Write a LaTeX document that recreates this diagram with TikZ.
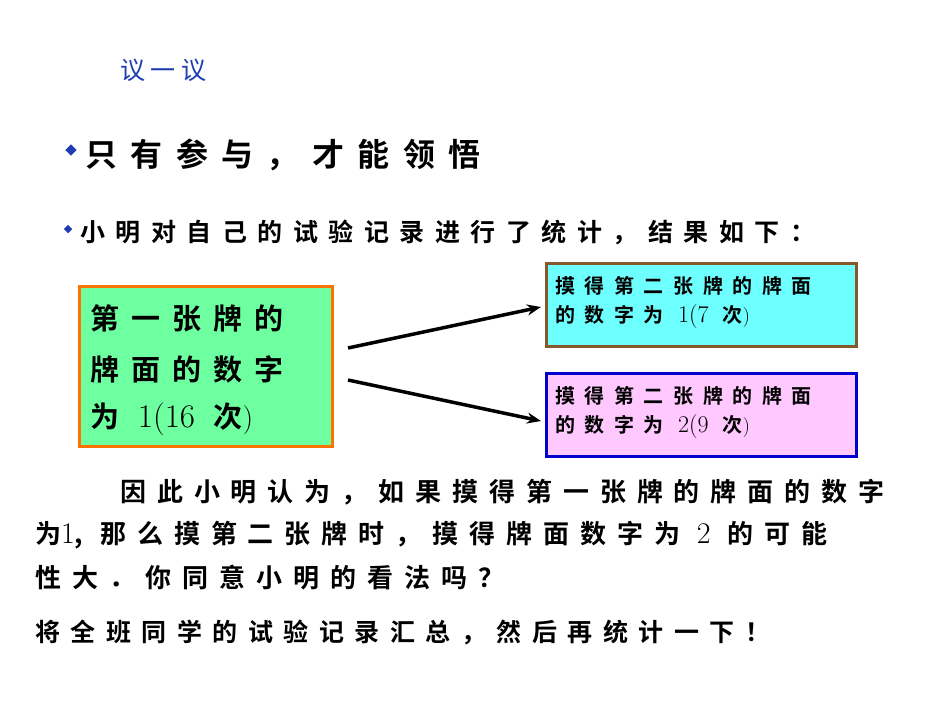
\documentclass[tikz,border=0pt]{standalone}
\usepackage{fontspec}
\newfontfamily\cjk{Noto Sans CJK SC}[BoldFont={Noto Sans CJK SC Bold}]
\newfontfamily\cjkw{Noto Sans CJK SC Bold}[LetterSpace=42]
\newfontfamily\cjks{Noto Sans CJK SC Bold}[LetterSpace=48]
\newfontfamily\cjkt{Noto Sans CJK SC}[LetterSpace=22]
\usetikzlibrary{arrows.meta}
\definecolor{tblue}{RGB}{30,60,180}
\tikzset{
  txt/.style={anchor=west,inner sep=0pt},
  bigbox/.style={draw=orange!90!red,line width=3pt,fill={rgb,255:red,110;green,255;blue,160},minimum width=253pt,minimum height=160pt,anchor=north west},
  sbox/.style={line width=3pt,minimum width=310pt,minimum height=83pt,anchor=north west},
  arr/.style={line width=3.5pt,-{Stealth[length=14pt,width=11pt]}}
}
\begin{document}
\begin{tikzpicture}[x=1pt,y=-1pt]
\useasboundingbox (0,0) rectangle (950,713);
\node[txt,text=tblue,font=\cjkt\fontsize{25}{25}\selectfont] (t) at (120,70) {议一议};
\node[fill=tblue,rotate=45,minimum size=8pt,inner sep=0pt] (b1) at (71,150) {};
\node[txt,font=\cjkw\fontsize{32}{32}\selectfont] (l1) at (85,155) {只有参与，才能领悟};
\node[fill=tblue,rotate=45,minimum size=6pt,inner sep=0pt] (b2) at (68,229) {};
\node[txt,font=\cjkw\fontsize{25}{25}\selectfont] (l2) at (80,232) {小明对自己的试验记录进行了统计，结果如下：};
\node[bigbox] (A) at (78,285) {};
\node[txt,font=\cjkw\fontsize{29}{29}\selectfont,align=left,anchor=north west] (At) at (90,304) {第一张牌的\\[22pt]牌面的数字\\[18pt]为 {\fontsize{33}{33}\rmfamily 1(16} 次{\rmfamily )}};
\node[sbox,draw=brown!70!black,fill={rgb,255:red,110;green,255;blue,255}] (B) at (545,262) {};
\node[txt,font=\cjks\fontsize{20}{20}\selectfont,align=left,anchor=north west] (Bt) at (555,276) {摸得第二张牌的牌面\\[9pt]的数字为 {\fontsize{24}{24}\rmfamily 1(7} 次{\rmfamily )}};
\node[sbox,draw=blue!80!black,fill={rgb,255:red,255;green,200;blue,255}] (C) at (545,372) {};
\node[txt,font=\cjks\fontsize{20}{20}\selectfont,align=left,anchor=north west] (Ct) at (555,386) {摸得第二张牌的牌面\\[9pt]的数字为 {\fontsize{24}{24}\rmfamily 2(9} 次{\rmfamily )}};
\coordinate (s1) at (348,348); \coordinate (e1) at (541,307);
\coordinate (s2) at (348,380); \coordinate (e2) at (541,421);
\draw[arr] (s1) -- (e1);
\draw[arr] (s2) -- (e2);
\node[txt,font=\cjkw\fontsize{26}{26}\selectfont] (p1) at (120,492) {因此小明认为，如果摸得第一张牌的牌面的数字};
\node[txt,font=\cjkw\fontsize{26}{26}\selectfont] (p2) at (35,535) {为{\fontsize{30}{30}\rmfamily 1}, 那么摸第二张牌时，摸得牌面数字为 {\fontsize{30}{30}\rmfamily 2} 的可能};
\node[txt,font=\cjkw\fontsize{26}{26}\selectfont] (p3) at (35,578) {性大．你同意小明的看法吗？};
\node[txt,font=\cjkw\fontsize{25}{25}\selectfont] (p4) at (35,632) {将全班同学的试验记录汇总，然后再统计一下！};
\end{tikzpicture}
\end{document}
